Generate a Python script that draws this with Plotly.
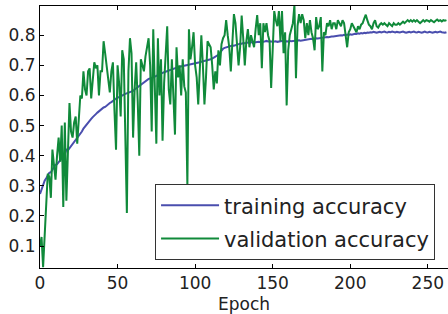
import plotly.graph_objects as go

epochs = list(range(263))

training_accuracy = [
    0.273, 0.29, 0.30, 0.317, 0.325, 0.335, 0.343, 0.345, 0.352, 0.36,
    0.37, 0.372, 0.378, 0.383, 0.39, 0.398, 0.405, 0.42, 0.418, 0.425,
    0.43, 0.437, 0.443, 0.45, 0.457, 0.465, 0.473, 0.48, 0.49, 0.497,
    0.505, 0.51, 0.515, 0.522, 0.528, 0.535, 0.538, 0.543, 0.548, 0.552,
    0.555, 0.56, 0.562, 0.567, 0.571, 0.575, 0.578, 0.582, 0.586, 0.59,
    0.593, 0.594, 0.598, 0.6, 0.603, 0.605, 0.607, 0.61, 0.611, 0.613,
    0.615, 0.62, 0.624, 0.628, 0.632, 0.637, 0.641, 0.645, 0.648, 0.652,
    0.655, 0.656, 0.659, 0.661, 0.663, 0.665, 0.668, 0.67, 0.673, 0.675,
    0.677, 0.679, 0.681, 0.683, 0.686, 0.688, 0.689, 0.691, 0.692, 0.694,
    0.695, 0.696, 0.697, 0.698, 0.699, 0.70, 0.701, 0.703, 0.704, 0.705,
    0.707, 0.708, 0.709, 0.71, 0.712, 0.713, 0.715, 0.716, 0.717, 0.719,
    0.72, 0.722, 0.725, 0.728, 0.731, 0.735, 0.742, 0.75, 0.755, 0.758,
    0.76, 0.762, 0.763, 0.764, 0.766, 0.765, 0.767, 0.769, 0.77, 0.772,
    0.772, 0.774, 0.773, 0.775, 0.776, 0.776, 0.777, 0.775, 0.776, 0.777,
    0.776, 0.778, 0.777, 0.779, 0.778, 0.78, 0.781, 0.779, 0.78, 0.779,
    0.778, 0.779, 0.78, 0.778, 0.779, 0.78, 0.781, 0.779, 0.78, 0.78,
    0.779, 0.781, 0.78, 0.781, 0.78, 0.781, 0.782, 0.783, 0.782, 0.783,
    0.784, 0.785, 0.786, 0.786, 0.787, 0.788, 0.787, 0.789, 0.79, 0.789,
    0.79, 0.791, 0.792, 0.791, 0.793, 0.794, 0.793, 0.795, 0.796, 0.796,
    0.797, 0.798, 0.797, 0.799, 0.8, 0.799, 0.801, 0.8, 0.802, 0.801,
    0.803, 0.802, 0.804, 0.805, 0.804, 0.806, 0.805, 0.807, 0.806, 0.808,
    0.807, 0.809, 0.808, 0.81, 0.809, 0.811, 0.81, 0.808, 0.81, 0.811,
    0.809, 0.81, 0.812, 0.81, 0.809, 0.811, 0.81, 0.812, 0.81, 0.809,
    0.811, 0.81, 0.809, 0.811, 0.812, 0.81, 0.808, 0.81, 0.811, 0.809,
    0.81, 0.812, 0.81, 0.809, 0.811, 0.81, 0.808, 0.81, 0.812, 0.81,
    0.809, 0.811, 0.81, 0.808, 0.81, 0.811, 0.809, 0.81, 0.812, 0.81,
    0.809, 0.808, 0.81,
]

validation_accuracy = [
    0.10, 0.13, 0.03, 0.15, 0.25, 0.34, 0.33, 0.26, 0.42, 0.36,
    0.32, 0.40, 0.46, 0.38, 0.50, 0.23, 0.51, 0.25, 0.45, 0.575,
    0.48, 0.46, 0.51, 0.53, 0.44, 0.53, 0.60, 0.59, 0.68, 0.62,
    0.60, 0.68, 0.69, 0.59, 0.66, 0.71, 0.69, 0.70, 0.60, 0.68,
    0.68, 0.78, 0.74, 0.70, 0.66, 0.61, 0.68, 0.71, 0.55, 0.42,
    0.70, 0.64, 0.53, 0.75, 0.72, 0.46, 0.21, 0.68, 0.79, 0.74,
    0.46, 0.62, 0.71, 0.58, 0.40, 0.72, 0.70, 0.68, 0.73, 0.76,
    0.79, 0.70, 0.48, 0.82, 0.65, 0.44, 0.79, 0.60, 0.72, 0.45,
    0.64, 0.72, 0.83, 0.62, 0.57, 0.72, 0.60, 0.47, 0.76, 0.66,
    0.70, 0.60, 0.72, 0.63, 0.61, 0.30, 0.82, 0.72, 0.76, 0.81,
    0.70, 0.66, 0.57, 0.69, 0.80, 0.70, 0.57, 0.66, 0.78, 0.77,
    0.76, 0.70, 0.62, 0.68, 0.64, 0.75, 0.70, 0.77, 0.79, 0.80,
    0.85, 0.80, 0.76, 0.68, 0.78, 0.87, 0.84, 0.75, 0.70, 0.76,
    0.865, 0.79, 0.70, 0.78, 0.82, 0.76, 0.80, 0.78, 0.76, 0.82,
    0.867, 0.80, 0.84, 0.69, 0.84, 0.81, 0.84, 0.80, 0.78, 0.625,
    0.78, 0.88, 0.85, 0.83, 0.88, 0.78, 0.88, 0.74, 0.81, 0.567,
    0.75, 0.80, 0.82, 0.84, 0.90, 0.657, 0.83, 0.87, 0.84, 0.87,
    0.85, 0.79, 0.84, 0.80, 0.85, 0.81, 0.79, 0.75, 0.86, 0.82,
    0.83, 0.86, 0.68, 0.81, 0.80, 0.84, 0.83, 0.85, 0.82, 0.84,
    0.84, 0.82, 0.85, 0.84, 0.83, 0.85, 0.84, 0.80, 0.76, 0.81,
    0.82, 0.84, 0.83, 0.82, 0.81, 0.83, 0.82, 0.835, 0.84, 0.855,
    0.868, 0.85, 0.835, 0.83, 0.82, 0.84, 0.85, 0.83, 0.825, 0.835,
    0.84, 0.835, 0.84, 0.835, 0.83, 0.84, 0.835, 0.83, 0.84, 0.835,
    0.835, 0.84, 0.835, 0.84, 0.845, 0.84, 0.845, 0.85, 0.845, 0.85,
    0.845, 0.85, 0.845, 0.85, 0.845, 0.84, 0.845, 0.85, 0.845, 0.85,
    0.848, 0.845, 0.85, 0.847, 0.843, 0.848, 0.852, 0.847, 0.85, 0.846,
    0.85, 0.848, 0.85,
]

x_ticks = [0, 50, 100, 150, 200, 250]
y_ticks = [0.1, 0.2, 0.3, 0.4, 0.5, 0.6, 0.7, 0.8]
y_tick_labels = ["0.1", "0.2", "0.3", "0.4", "0.5", "0.6", "0.7", "0.8"]

FONT = "DejaVu Sans"
TEXT = "#222222"

fig = go.Figure()
fig.add_trace(go.Scatter(
    x=epochs, y=training_accuracy, mode="lines", name="training accuracy",
    line=dict(color="#4a4eae", width=2), legendgroup="a",
))
fig.add_trace(go.Scatter(
    x=epochs, y=validation_accuracy, mode="lines", name="validation accuracy",
    line=dict(color="#108a3a", width=2), legendgroup="b",
))

fig.update_layout(
    width=448, height=314,
    margin=dict(l=40, r=0, t=6, b=46),
    paper_bgcolor="white", plot_bgcolor="white",
    font=dict(family=FONT, size=17, color=TEXT),
    showlegend=True,
    legend=dict(
        x=0.282, y=0.32, xanchor="left", yanchor="top",
        bgcolor="white", bordercolor="#333333", borderwidth=1,
        font=dict(family=FONT, size=21, color=TEXT),
        tracegroupgap=3, itemwidth=58,
    ),
    xaxis=dict(
        range=[0, 263], tickvals=x_ticks, ticks="inside", ticklen=4,
        tickcolor="black", showline=True, linecolor="black", linewidth=1,
        mirror="ticks", showgrid=False, zeroline=False,
        title=dict(text="Epoch", font=dict(size=17), standoff=7),
        tickfont=dict(size=17),
    ),
    yaxis=dict(
        range=[0.027, 0.897], tickvals=y_ticks, ticktext=y_tick_labels,
        ticks="inside", ticklen=4, tickcolor="black", showline=True,
        linecolor="black", linewidth=1, showgrid=False, zeroline=False,
        tickfont=dict(size=17),
    ),
)

fig.write_html(
    "out.html",
    config={"displayModeBar": False},
    post_script="document.body.style.margin='0px';document.body.style.padding='0px';",
)
